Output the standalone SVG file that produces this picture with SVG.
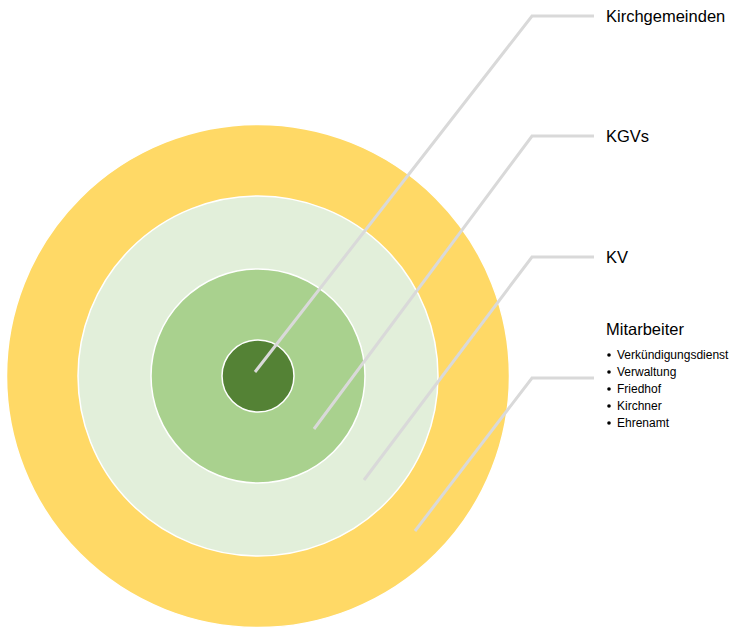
<svg xmlns="http://www.w3.org/2000/svg" width="733" height="628" viewBox="0 0 733 628">
<style>
.ring{stroke:#FFFFFF;stroke-width:1.5}
.conn{fill:none;stroke:#D9D9D9;stroke-width:3}
.title{font-family:"Liberation Sans",Arial,sans-serif;font-size:16.5px;fill:#000}
.item{font-family:"Liberation Sans",Arial,sans-serif;font-size:12px;fill:#000}
</style>
<rect width="733" height="628" fill="#FFFFFF"/>
<g id="node-mitarbeiter-ring"><circle class="ring" cx="258" cy="376" r="251.5" fill="#FFD966"/></g>
<g id="node-kv-ring"><circle class="ring" cx="258" cy="376" r="180" fill="#E2EFDA"/></g>
<g id="node-kgvs-ring"><circle class="ring" cx="258" cy="376" r="107" fill="#A9D18E"/></g>
<g id="node-kirchgemeinden-ring"><circle class="ring" cx="258" cy="376" r="36" fill="#548235"/></g>
<g id="connectors">
<polyline class="conn" points="255,372 532,16 594,16"/>
<polyline class="conn" points="314,429 532,136 594,136"/>
<polyline class="conn" points="364,480 532,257 594,257"/>
<polyline class="conn" points="415,531 532,378 594,378"/>
</g>
<g id="label-kirchgemeinden"><text class="title" x="606" y="22">Kirchgemeinden</text></g>
<g id="label-kgvs"><text class="title" x="606" y="142">KGVs</text></g>
<g id="label-kv"><text class="title" x="606" y="263">KV</text></g>
<g id="label-mitarbeiter">
<text class="title" x="606" y="335">Mitarbeiter</text>
<g class="item">
<circle cx="609" cy="355" r="1.8"/><text class="item" x="617" y="359">Verkündigungsdienst</text>
<circle cx="609" cy="372" r="1.8"/><text class="item" x="617" y="376">Verwaltung</text>
<circle cx="609" cy="389" r="1.8"/><text class="item" x="617" y="393">Friedhof</text>
<circle cx="609" cy="406" r="1.8"/><text class="item" x="617" y="410">Kirchner</text>
<circle cx="609" cy="423" r="1.8"/><text class="item" x="617" y="427">Ehrenamt</text>
</g>
</g>
</svg>
